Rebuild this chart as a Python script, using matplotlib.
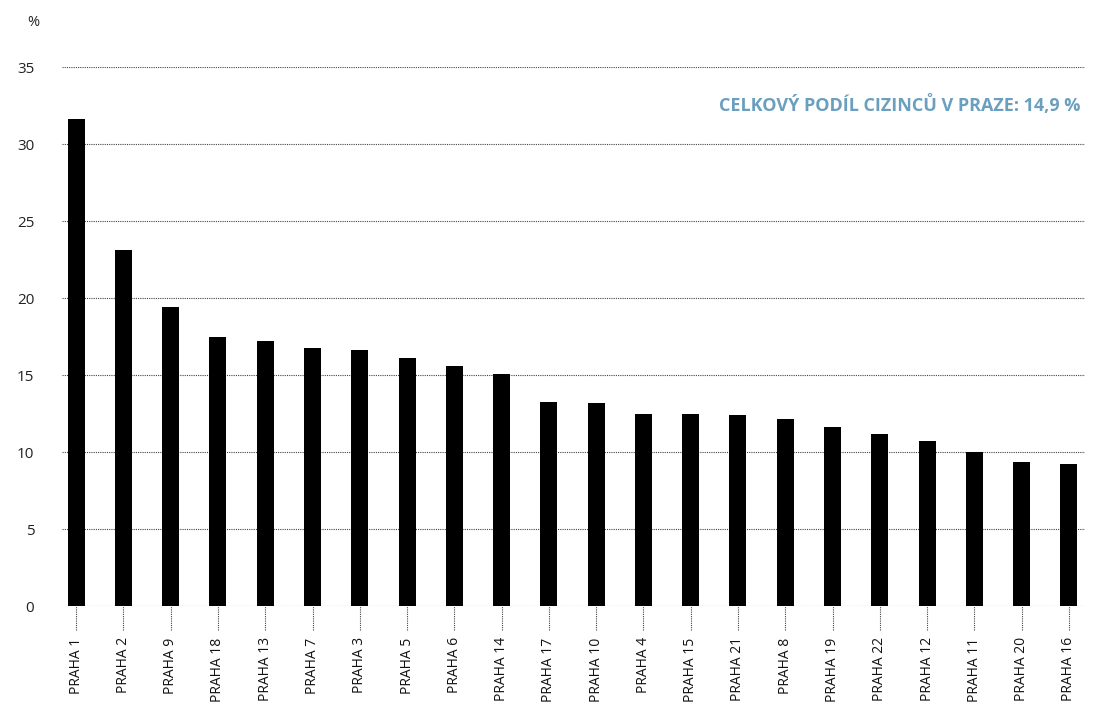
import matplotlib

matplotlib.use("Agg")
import matplotlib.pyplot as plt

# share of foreigners by Prague district, %
districts = ["1", "2", "9", "18", "13", "7", "3", "5", "6", "14", "17",
             "10", "4", "15", "21", "8", "19", "22", "12", "11", "20", "16"]
shares = [31.6, 23.1, 19.4, 17.5, 17.2, 16.75, 16.6, 16.1, 15.6, 15.1, 13.25,
          13.2, 12.5, 12.5, 12.4, 12.15, 11.6, 11.2, 10.7, 10.0, 9.35, 9.2]
yticks = [0, 5, 10, 15, 20, 25, 30, 35]
note = "CELKOVÝ PODÍL CIZINCŮ V PRAZE: 14,9 %"

plt.rcParams["font.family"] = ["Open Sans", "DejaVu Sans"]

fig = plt.figure(figsize=(10.97, 7.06), dpi=100)
ax = fig.add_axes([0.0565, 0.1416, 0.9325, 0.7634])

x = list(range(len(districts)))
ax.bar(x, shares, width=0.36, color="black", zorder=3)

ax.set_xlim(-0.3, len(districts) - 1 + 0.34)
ax.set_ylim(0, 35)
ax.set_yticks(yticks)
ax.set_yticklabels([str(t) for t in yticks], fontsize=11, color="#222222")
ax.tick_params(axis="y", length=0, pad=20)
ax.set_xticks([])
for s in ax.spines.values():
    s.set_visible(False)
ax.grid(axis="y", linestyle=(0, (1, 1)), color="#444444", linewidth=0.8, zorder=1)
ax.set_axisbelow(True)

# dotted tick stubs under each bar and rotated district labels
ax.vlines(x, -0.045, 0, transform=ax.get_xaxis_transform(), colors="#444444",
          linestyles=(0, (1, 1)), linewidth=0.8, clip_on=False)
for xi, d in zip(x, districts):
    ax.text(xi, -0.058, f"PRAHA {d}", transform=ax.get_xaxis_transform(),
            rotation=90, ha="center", va="top", fontsize=10,
            color="#111111")

fig.text(0.025, 0.968, "%", fontsize=10.5, color="#222222", ha="left", va="center")
fig.text(0.985, 0.851, note, fontsize=13, fontweight="bold", color="#6a9fbf",
         ha="right", va="center")

fig.savefig("out.png", dpi=100)
